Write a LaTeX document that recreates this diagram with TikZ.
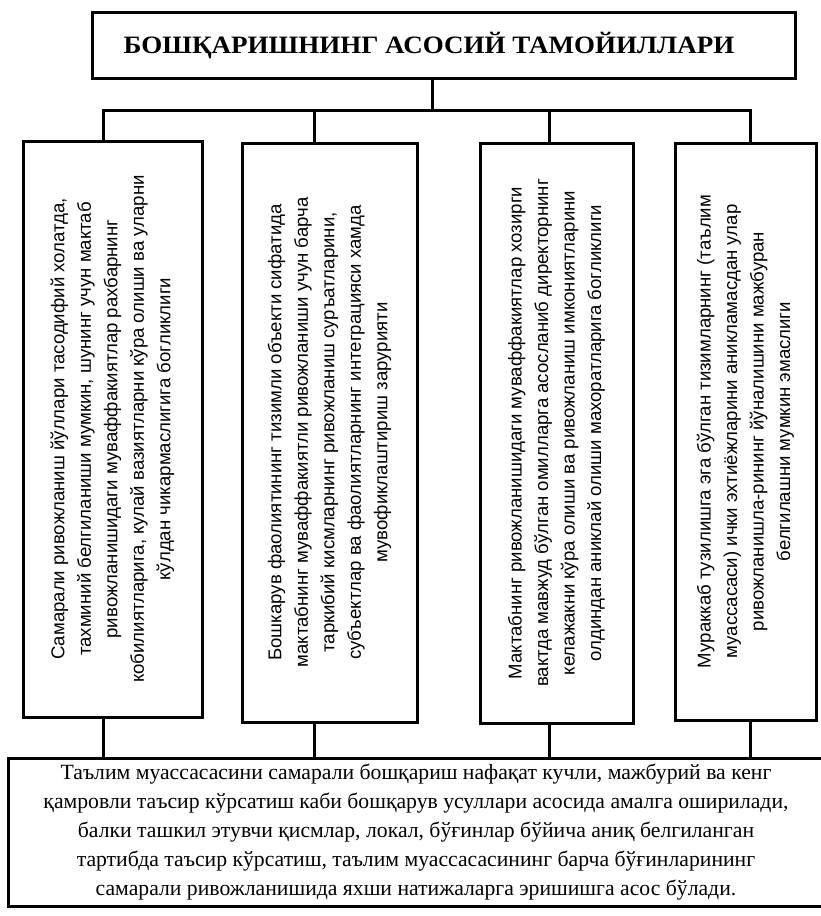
\documentclass[tikz,border=0pt]{standalone}
\usepackage{fontspec}
\setmainfont{Liberation Serif}
\newfontfamily\boxfont{Liberation Sans}
\begin{document}
\begin{tikzpicture}[x=1pt,y=-1pt,
  frame/.style={draw=black, line width=3pt, inner sep=0pt},
  link/.style={draw=black, line width=3pt},
  vbox/.style={frame, rotate=90, align=center, font=\boxfont\fontsize{18.6}{26.5}\selectfont},
]
\useasboundingbox (0,0) rectangle (820,916);
\fill[white] (0,0) rectangle (820,916);

\node[frame, minimum width=703pt, minimum height=66pt] (title) at (443.5,45) {};
\node[font=\bfseries\fontsize{25}{28}\selectfont, inner sep=0pt, xscale=1.08] (titletext) at (429,46) {БОШҚАРИШНИНГ АСОСИЙ ТАМОЙИЛЛАРИ};

\node[vbox, minimum width=576pt, minimum height=179pt] (b1) at (112.5,429)
 {Самарали ривожланиш йўллари тасодифий холатда,\\
  тахминий белгиланиши мумкин, шунинг учун мактаб\\
  ривожланишидаги муваффакиятлар рахбарнинг\\
  кобилиятларига, кулай вазиятларни кўра олиши ва уларни\\
  кўлдан чикармаслигига богликлиги};
\node[vbox, minimum width=579pt, minimum height=175pt] (b2) at (329.5,432.5)
 {Бошкарув фаолиятининг тизимли объекти сифатида\\
  мактабнинг муваффакиятли ривожланиши учун барча\\
  таркибий кисмларнинг ривожланиш суръатларини,\\
  субъектлар ва фаолиятларнинг интеграцияси хамда\\
  мувофиклаштириш зарурияти};
\node[vbox, minimum width=580pt, minimum height=153pt] (b3) at (556.5,433)
 {Мактабнинг ривожланишидаги муваффакиятлар хозирги\\
  вактда мавжуд бўлган омилларга асосланиб директорнинг\\
  келажакни кўра олиши ва ривожланиш имкониятларини\\
  олдиндан аниклай олиши махоратларига богликлиги};
\node[vbox, minimum width=577pt, minimum height=141pt] (b4) at (745.5,431.5)
 {Мураккаб тузилишга эга бўлган тизимларнинг (таълим\\
  муассасаси) ички эхтиёжларини аникламасдан улар\\
  ривожланишла-рининг йўналишини мажбуран\\
  белгилашни мумкин эмаслиги};

\node[frame, minimum width=816pt, minimum height=148pt, align=center,
      font=\fontsize{21.7}{29}\selectfont] (base) at (416,832)
 {Таълим муассасасини самарали бошқариш нафақат кучли, мажбурий ва кенг\\
  қамровли таъсир кўрсатиш каби бошқарув усуллари асосида амалга оширилади,\\
  балки ташкил этувчи қисмлар, локал, бўғинлар бўйича аниқ белгиланган\\
  тартибда таъсир кўрсатиш, таълим муассасасининг барча бўғинларининг\\
  самарали ривожланишида яхши натижаларга эришишга асос бўлади.};

\coordinate (bus) at (432,110);
\coordinate (j1) at (103,110);
\coordinate (j2) at (314,110);
\coordinate (j3) at (549,110);
\coordinate (j4) at (750,110);
\draw[link] (title.south -| bus) -- (bus);
\draw[link, line cap=rect] (j1) -- (j4);
\draw[link] (j1) -- (j1 |- b1.east);
\draw[link] (j2) -- (j2 |- b2.east);
\draw[link] (j3) -- (j3 |- b3.east);
\draw[link] (j4) -- (j4 |- b4.east);
\draw[link] (j1 |- b1.west) -- (j1 |- base.north);
\draw[link] (j2 |- b2.west) -- (j2 |- base.north);
\draw[link] (j3 |- b3.west) -- (j3 |- base.north);
\draw[link] (j4 |- b4.west) -- (j4 |- base.north);
\end{tikzpicture}
\end{document}
